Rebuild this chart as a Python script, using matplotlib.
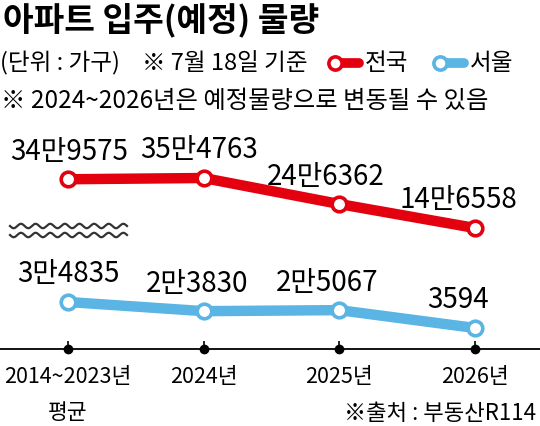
import numpy as np
import matplotlib
matplotlib.use("Agg")
from matplotlib import pyplot as plt
from matplotlib.lines import Line2D

plt.rcParams['font.family'] = ['Noto Sans CJK KR', 'DejaVu Sans']

# data (unit: households)
periods = ["2014~2023년\n평균", "2024년", "2025년", "2026년"]
national = [349575, 354763, 246362, 146558]
seoul = [34835, 23830, 25067, 3594]
national_labels = ["34만9575", "35만4763", "24만6362", "14만6558"]
seoul_labels = ["3만4835", "2만3830", "2만5067", "3594"]

RED = "#e3000f"
BLUE = "#5ab4e4"
W, H = 540, 426


def fx(px):
    return px / W


def fy(py):
    return 1 - py / H


def fit_ylim(vals, lo_px, hi_px, bottom_px, height_px):
    # map min(vals) -> lo_px and max(vals) -> hi_px (pixel rows from top)
    vmin, vmax = min(vals), max(vals)
    s = (lo_px - hi_px) / (vmax - vmin)
    ymin = vmin - (bottom_px - lo_px) / s
    return ymin, ymin + height_px / s


fig = plt.figure(figsize=(W / 100, H / 100), dpi=100)
fig.patch.set_facecolor("white")

x = np.arange(len(periods))
unit = (475 - 68) / 3
xlim = (-68 / unit, 3 + (W - 475) / unit)

# upper panel: national
ax_top = fig.add_axes([0, fy(245), 1, 105 / H])
ax_top.set_xlim(*xlim)
ax_top.set_ylim(*fit_ylim(national, 228, 178, 245, 105))
ax_top.axis("off")

# lower panel: seoul, bottom spine is the time axis
ax_bot = fig.add_axes([0, fy(349), 1, 95 / H])
ax_bot.set_xlim(*xlim)
ax_bot.set_ylim(*fit_ylim(seoul, 328, 302, 349, 95))
for side in ["top", "left", "right"]:
    ax_bot.spines[side].set_visible(False)
ax_bot.spines["bottom"].set_linewidth(1.3)
ax_bot.set_yticks([])
ax_bot.set_xticks(x)
ax_bot.set_xticklabels(periods, fontsize=15.5, linespacing=1.85)
ax_bot.tick_params(axis="x", direction="in", length=6, width=1.2, pad=12)
ax_bot.plot(x, [ax_bot.get_ylim()[0]] * len(x), "o", color="black",
            markersize=6, clip_on=False, zorder=5)

for ax, vals, labels, color, nudges in [
    (ax_top, national, national_labels, RED, [1, -3, -10, -12]),
    (ax_bot, seoul, seoul_labels, BLUE, [0, -5, -9, -12]),
]:
    ax.plot(x, vals, color=color, linewidth=7.5, solid_capstyle="round",
            marker="o", markersize=10.5, markerfacecolor="white",
            markeredgecolor=color, markeredgewidth=2.6, clip_on=False, zorder=3)
    for xi, v, lab, dx in zip(x, vals, labels, nudges):
        ax.annotate(lab, (xi, v), xytext=(dx, 9), textcoords="offset points",
                    ha="center", va="bottom", fontsize=20, fontweight="medium")

# break symbol
wx = np.linspace(10, 127, 200)
for base in (226, 235):
    wy = base + 2.2 * np.sin((wx - 10) / 117 * 2 * np.pi * 8)
    fig.add_artist(Line2D(fx(wx), fy(wy), color="#333333", linewidth=1.6))

# header
fig.text(fx(3), fy(20), "아파트 입주(예정) 물량", fontsize=24, fontweight="black",
         va="center", ha="left")
fig.text(fx(0), fy(63), "(단위 : 가구)", fontsize=17, va="center", ha="left")
fig.text(fx(142), fy(63), "※ 7월 18일 기준", fontsize=17, va="center", ha="left")
legend_items = [(335, 359, 365, RED, "전국"), (440, 464, 470, BLUE, "서울")]
for cx, ex, tx, color, name in legend_items:
    fig.add_artist(Line2D([fx(cx), fx(ex)], [fy(63), fy(63)], color=color,
                          linewidth=7, solid_capstyle="round"))
    fig.add_artist(Line2D([fx(cx)], [fy(63)], marker="o", markersize=9.5,
                          markerfacecolor="white", markeredgecolor=color,
                          markeredgewidth=2.6))
    fig.text(fx(tx), fy(63), name, fontsize=17, va="center", ha="left")
fig.text(fx(1), fy(101), "※ 2024~2026년은 예정물량으로 변동될 수 있음", fontsize=17.5,
         va="center", ha="left")

fig.text(fx(536), fy(414), "※출처 : 부동산R114", fontsize=16, va="center", ha="right")

fig.savefig("out.png", dpi=100, facecolor="white")
